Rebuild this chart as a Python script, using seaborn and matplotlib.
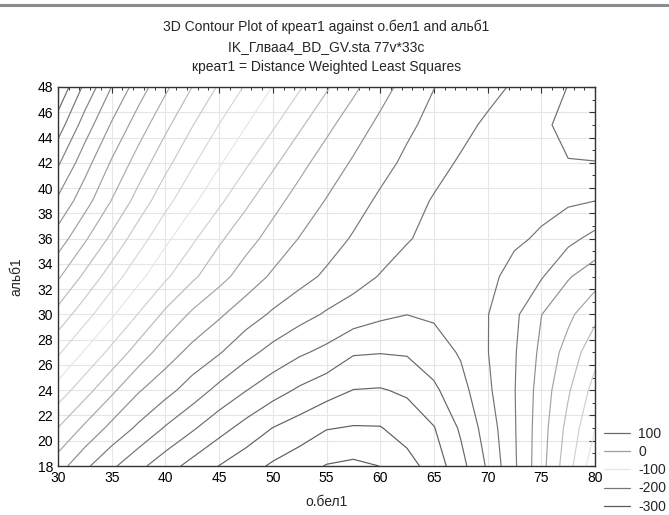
import numpy as np
import pandas as pd
import matplotlib
matplotlib.use("Agg")
import matplotlib.pyplot as plt
from matplotlib.lines import Line2D
from matplotlib.ticker import MultipleLocator
import seaborn as sns

# Fitted surface креат1 (distance weighted least squares) on a regular grid.
# Columns: о.бел1 values, one list per альб1 row.
obel = [30, 32.5, 35, 37.5, 40, 42.5, 45, 47.5, 50, 52.5, 55, 57.5,
        60, 62.5, 65, 67.5, 70, 72.5, 75, 77.5, 80]
alb = [18, 21, 24, 27, 30, 33, 36, 39, 42, 45, 48]

kreat_a18 = [-171, -195.8, -216.2, -234.8, -251.4, -266.4, -280.4, -292, -302.8, -311.6, -321,
             -324, -319.8, -307.4, -291.4, -266.6, -237.4, -202.8, -167.2, -127.6, -86.6]
kreat_a21 = [-140.4, -163.8, -185.8, -203.8, -221.8, -237.4, -252.8, -267, -280.4, -289.2, -299,
             -301.4, -301, -291.6, -281, -257.2, -231, -201.6, -169, -133.8, -100.4]
kreat_a24 = [-108.4, -132.4, -155.8, -178.2, -193.2, -209.2, -225.6, -239.4, -251.8, -263, -272,
             -280.4, -281.4, -277, -263.4, -247.2, -223.8, -200.8, -171.4, -142.4, -112.6]
kreat_a27 = [-77, -102, -125.8, -149, -170, -186, -198.4, -213.8, -226.4, -237, -245,
             -258, -259.2, -258, -250, -237.8, -220.6, -201.8, -175.6, -152.2, -126.8]
kreat_a30 = [-47, -72, -97, -121, -144.2, -163.4, -177.2, -190.6, -202.8, -213, -222.2,
             -229, -236, -239.8, -237, -231, -220.6, -204.4, -180.4, -164.6, -145.4]
kreat_a33 = [-17.2, -44.2, -70, -94.2, -116.6, -136.2, -153.4, -169, -183, -193.4, -203.2,
             -212.4, -221, -226, -229, -229, -225, -213.6, -201.8, -181.8, -169.2]
kreat_a36 = [11, -17.2, -44.4, -71, -95.2, -116.6, -136.8, -152.8, -167.2, -180.8, -191.4,
             -201.8, -210.4, -219, -224, -226.4, -226, -223, -217.6, -205.4, -194.2]
kreat_a39 = [36.6, 8.2, -20.6, -47.8, -73.4, -95.6, -116, -136, -153.4, -167.8, -181,
             -192.2, -203.2, -213, -221.4, -225.6, -227, -226, -225, -223, -220.2]
kreat_a42 = [62.8, 28, -2.2, -28.8, -54, -77.2, -97.6, -117, -136.2, -154.2, -169.2,
             -182.2, -193.4, -204, -214, -222, -226, -231, -235, -239.6, -239.8]
kreat_a45 = [90.2, 50.6, 17.8, -10, -35.2, -59, -80.4, -99.2, -117.2, -136.8, -155,
             -170.6, -184.2, -196.2, -206, -214.8, -223, -230.4, -238, -243, -244]
kreat_a48 = [117, 75.4, 39.6, 10, -16, -40.2, -62.4, -82.2, -100.6, -118, -137.6,
             -155.8, -172.6, -187, -199.6, -207, -214.4, -222.2, -231.2, -240.4, -248]

kreat_rows = [kreat_a18, kreat_a21, kreat_a24, kreat_a27, kreat_a30, kreat_a33,
              kreat_a36, kreat_a39, kreat_a42, kreat_a45, kreat_a48]

# contour levels and the ones listed in the legend
levels = [-320, -300, -280, -260, -240, -220, -200, -180, -160, -140, -120,
          -100, -80, -60, -40, -20, 0, 20, 40, 60, 80, 100]
legend_levels = [100, 0, -100, -200, -300]

title_lines = ["3D Contour Plot of креат1 against о.бел1 and альб1",
               "IK_Глваа4_BD_GV.sta 77v*33c",
               "креат1 = Distance Weighted Least Squares"]

# long table -> grid
df = pd.DataFrame([(a, o, v) for a, row in zip(alb, kreat_rows) for o, v in zip(obel, row)],
                  columns=["альб1", "о.бел1", "креат1"])
grid = df.pivot(index="альб1", columns="о.бел1", values="креат1")
X, Y = np.meshgrid(grid.columns.values, grid.index.values)
Z = grid.values

sns.set_theme(style="white")
plt.rcParams["font.family"] = ["Liberation Sans", "DejaVu Sans"]


def level_gray(v):
    # grayscale palette that cycles dark -> light -> dark over the level range
    g = np.interp(v, [-320, -300, -200, -100, 0, 100, 120],
                  [0.36, 0.36, 0.47, 0.90, 0.62, 0.42, 0.40])
    return (g, g, g)


W, H = 669, 515
fig = plt.figure(figsize=(W / 100, H / 100), dpi=100)
fig.patch.set_facecolor("white")
ax = fig.add_axes([58 / W, 1 - 466 / H, (595 - 58) / W, (466 - 87) / H])

ax.contour(X, Y, Z, levels=levels, colors=[level_gray(v) for v in levels],
           linewidths=0.85)

ax.set_xlim(30, 80)
ax.set_ylim(18, 48)
ax.xaxis.set_major_locator(MultipleLocator(5))
ax.xaxis.set_minor_locator(MultipleLocator(1))
ax.yaxis.set_major_locator(MultipleLocator(2))
ax.yaxis.set_minor_locator(MultipleLocator(1))
ax.grid(which="major", color="#e6e6e6", linewidth=0.8)
ax.set_axisbelow(True)
ax.tick_params(which="both", direction="in", top=True, right=True,
               colors="#333333", labelcolor="black", labelsize=10)
ax.tick_params(which="major", length=4, width=0.8)
ax.tick_params(which="minor", length=2.5, width=0.7)
for s in ax.spines.values():
    s.set_color("#333333")
    s.set_linewidth(1.0)

ax.set_xlabel("о.бел1", fontsize=10, labelpad=7)
ax.set_ylabel("альб1", fontsize=10, labelpad=10)

# titles
cx = (58 + 595) / 2 / W
for txt, py in zip(title_lines, [27, 47, 67]):
    fig.text(cx, 1 - py / H, txt, ha="center", va="center", fontsize=10)

# window frame bar along the top edge
fig.add_artist(Line2D([0, 1], [1 - 5 / H, 1 - 5 / H], transform=fig.transFigure,
                      color="#8c8c8c", linewidth=2.2))

handles = [Line2D([0], [0], color=level_gray(v), linewidth=0.9) for v in legend_levels]
fig.legend(handles, [str(v) for v in legend_levels], loc="upper left",
           bbox_to_anchor=(604 / W, 1 - 427 / H), frameon=False, fontsize=10,
           handlelength=1.9, handletextpad=0.55, labelspacing=0.3,
           borderpad=0, borderaxespad=0)

fig.savefig("out.png", dpi=100, facecolor="white")
